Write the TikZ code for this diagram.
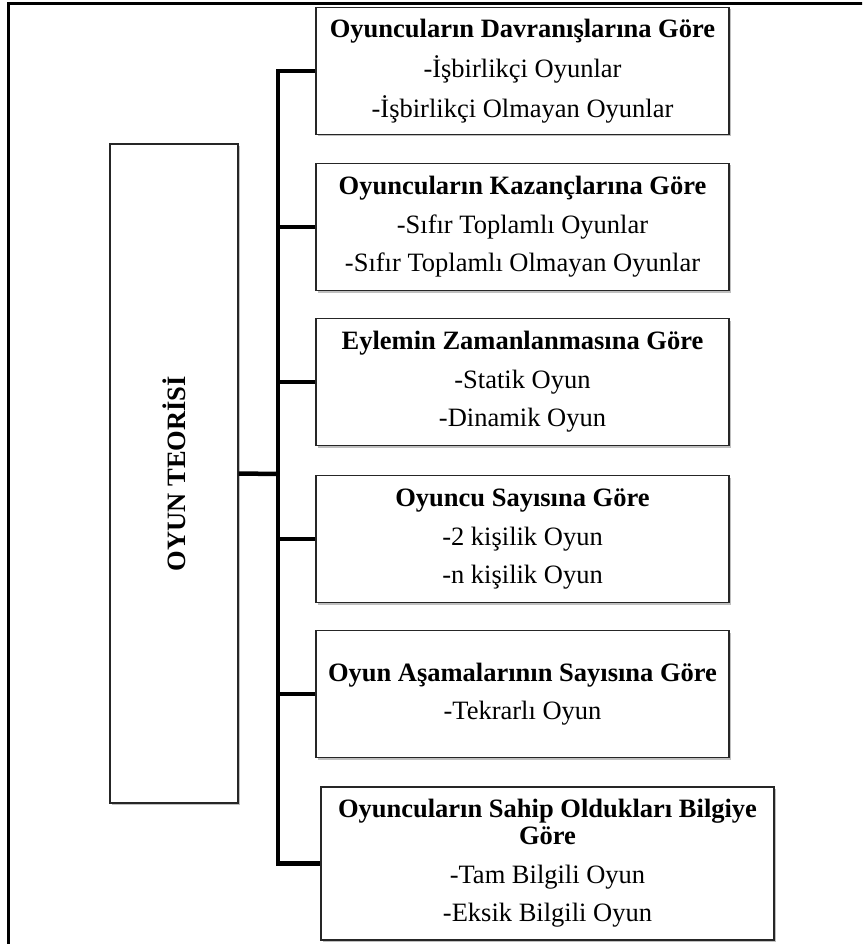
\documentclass[tikz,border=0pt]{standalone}
\usepackage{fontspec}
\setmainfont{Liberation Serif}
\usetikzlibrary{shadows}

\tikzset{
    kutu/.style={draw=black!85, line width=1.4pt, fill=white, align=center,
        inner sep=0pt, minimum width=413pt, minimum height=127pt,
        font=\fontsize{26.5}{27}\selectfont,
        drop shadow={shadow xshift=1.5pt, shadow yshift=-2pt, opacity=0.25, fill=black}},
    dal/.style={line width=4.5pt},
}
\newcommand{\bas}[1]{\textbf{#1}}

\begin{document}
\begin{tikzpicture}[x=1pt,y=-1pt]
    \useasboundingbox (0,0) rectangle (862,944);
    \clip (0,0) rectangle (862,944);
    \draw[line width=3pt] (8,4) rectangle (900,990);

    \node[kutu, minimum width=128pt, minimum height=659pt] (teori) at (174,473.5) {};
    \node[rotate=90, font=\fontsize{26.5}{27}\selectfont\bfseries] (teoriyazi) at (teori) {OYUN TEORİSİ};

    \node[kutu] (k1) at (522.5,71)
        {\bas{Oyuncuların Davranışlarına Göre}\\[11.5pt]-İşbirlikçi Oyunlar\\[11.5pt]-İşbirlikçi Olmayan Oyunlar};
    \node[kutu] (k2) at (522.5,227)
        {\bas{Oyuncuların Kazançlarına Göre}\\[11.5pt]-Sıfır Toplamlı Oyunlar\\[11.5pt]-Sıfır Toplamlı Olmayan Oyunlar};
    \node[kutu] (k3) at (522.5,382)
        {\bas{Eylemin Zamanlanmasına Göre}\\[11.5pt]-Statik Oyun\\[11.5pt]-Dinamik Oyun};
    \node[kutu] (k4) at (522.5,539)
        {\bas{Oyuncu Sayısına Göre}\\[11.5pt]-2 kişilik Oyun\\[11.5pt]-n kişilik Oyun};
    \node[kutu] (k5) at (522.5,694)
        {\bas{Oyun Aşamalarının Sayısına Göre}\\[11.5pt]-Tekrarlı Oyun};
    \node[kutu, minimum width=453pt, minimum height=153pt] (k6) at (547.5,863.5)
        {\bas{Oyuncuların Sahip Oldukları Bilgiye}\\\bas{Göre}\\[11.5pt]-Tam Bilgili Oyun\\[11.5pt]-Eksik Bilgili Oyun};

    \coordinate (govde) at (278,474);
    \draw[dal] (teori.east) -- (govde);
    \draw[dal] (k1.west) -- (k1.west -| govde) -- (k6.west -| govde) -- (k6.west);
    \foreach \k in {k2,k3,k4,k5}
        \draw[dal] (\k.west) -- (\k.west -| govde);
\end{tikzpicture}
\end{document}
